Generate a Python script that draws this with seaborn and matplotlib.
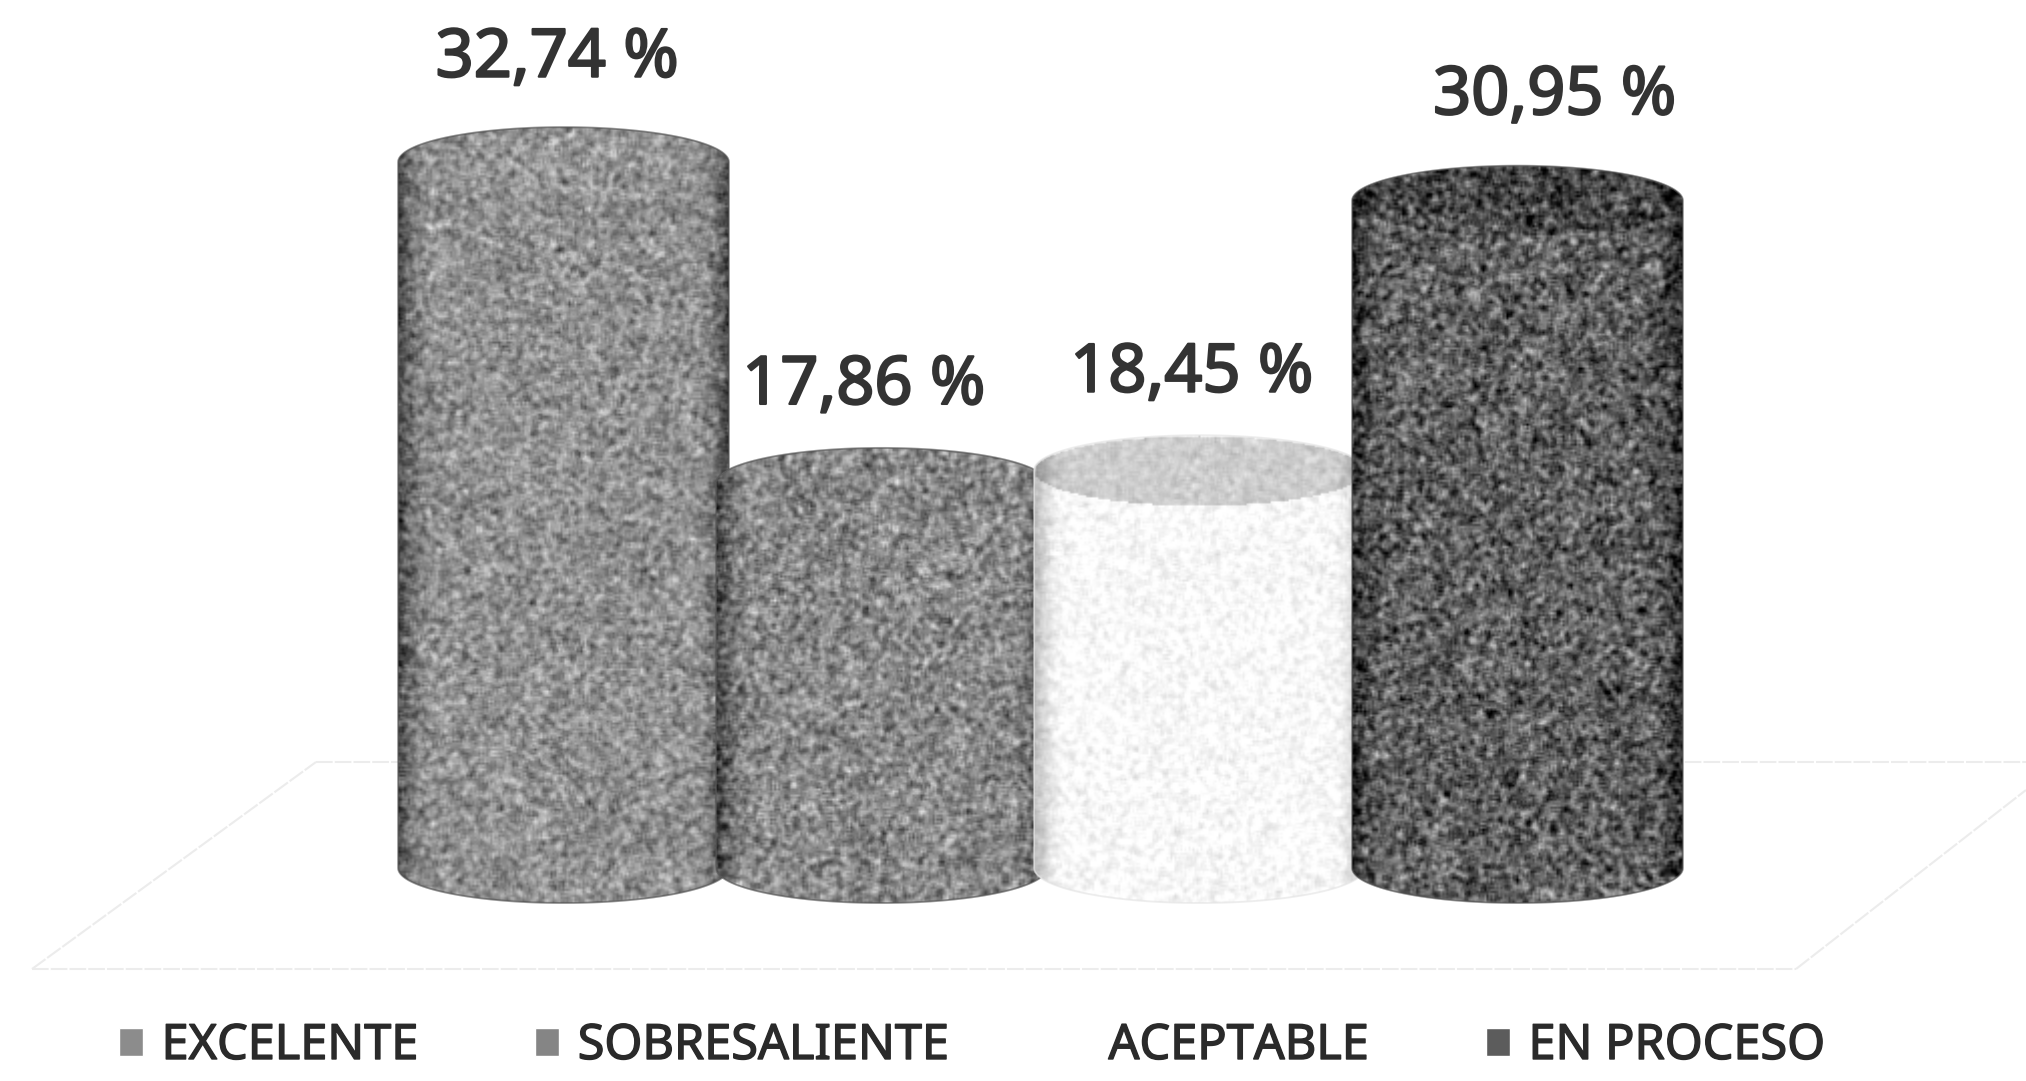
import numpy as np
import pandas as pd
import matplotlib
matplotlib.use("Agg")
import matplotlib.pyplot as plt
import matplotlib.patheffects as pe
from matplotlib.path import Path
from matplotlib.patches import PathPatch
import seaborn as sns

categories = ["EXCELENTE", "SOBRESALIENTE", "ACEPTABLE", "EN PROCESO"]
values = [32.74, 17.86, 18.45, 30.95]
value_labels = ["32,74 %", "17,86 %", "18,45 %", "30,95 %"]

bar_colors = ["#8c8c8c", "#858585", "#f2f2f2", "#5c5c5c"]
cap_levels = [150, 135, 205, 72]
body_levels = [145, 138, 248, 96]
grain = [21, 24, 8, 30]
edge_dark = [75, 75, 60, 55]
label_dx = [-0.02, -0.056, -0.024, 0.117]
label_dy = [4.8, 4.5, 4.48, 4.85]

W, H = 2026, 1081
PX_X = 318.0
PX_Y = 21.56
X0, Y0 = 563.5, 868.0
CAP = 35 / PX_Y

sns.set_theme(style="white")
plt.rcParams["font.family"] = ["Noto Sans", "DejaVu Sans"]

fig = plt.figure(figsize=(W / 100, H / 100), dpi=100, facecolor="white")
ax = fig.add_axes([0, 0, 1, 1])
df = pd.DataFrame({"cat": categories, "val": values})
sns.barplot(data=df, x="cat", y="val", hue="cat", order=categories, hue_order=categories,
            palette=bar_colors, dodge=False, width=1.04, saturation=1, legend=True, ax=ax)
handles, labels = ax.get_legend_handles_labels()
ax.get_legend().remove()

rng = np.random.default_rng(7)
xlim = (-X0 / PX_X, (W - X0) / PX_X)
ylim = (-(H - Y0) / PX_Y, Y0 / PX_Y)


def smooth(a):
    out = a.copy()
    for axis in (0, 1):
        out = (np.roll(out, 1, axis) + out + np.roll(out, -1, axis)) / 3
    return out


for i, cont in enumerate(ax.containers):
    bar = cont[0]
    bar.set_linewidth(0)
    bar.set_zorder(3 + i)
    x0, w, v = bar.get_x(), bar.get_width(), bar.get_height()
    t = np.linspace(0, np.pi, 80)
    xa = x0 + w / 2 - np.cos(t) * w / 2
    top = v + np.sin(t) * CAP
    bot = -np.sin(t) * CAP
    verts = np.vstack([np.c_[xa, top], np.c_[xa[::-1], bot[::-1]], [[xa[0], top[0]]]])
    codes = [Path.MOVETO] + [Path.LINETO] * (len(verts) - 2) + [Path.CLOSEPOLY]
    outline = PathPatch(Path(verts, codes), facecolor=bar_colors[i], lw=0, zorder=3 + i)
    ax.add_patch(outline)

    ny = int((v + 2 * CAP) * PX_Y / 2)
    nx = int(w * PX_X / 2)
    xs = np.linspace(-1, 1, nx)
    ys = np.linspace(v + CAP, -CAP, ny)
    uu, yy = np.meshgrid(xs, ys)
    shade = np.full(uu.shape, float(body_levels[i]))
    capmask = uu ** 2 + ((yy - v) / CAP) ** 2 < 1
    shade[capmask] = cap_levels[i]
    edge = np.clip((np.abs(uu) - 0.78) / 0.22, 0, 1) ** 2
    shade -= edge * edge_dark[i]
    noise = smooth(rng.normal(0, 1, uu.shape))
    noise = noise / noise.std()
    img = np.clip(shade + noise * grain[i], 0, 255)
    im = ax.imshow(img, cmap="gray", vmin=0, vmax=255, aspect="auto",
                   extent=(x0, x0 + w, -CAP, v + CAP), interpolation="bilinear", zorder=3.5 + i)
    im.set_clip_path(outline)
    rim = PathPatch(Path(verts, codes), facecolor="none",
                    edgecolor="#555555" if i != 2 else "#e4e4e4", lw=1.4, alpha=0.6, zorder=3.6 + i)
    ax.add_patch(rim)
    ax.text(i + label_dx[i], v + label_dy[i], value_labels[i], ha="center", va="center",
            fontsize=48, color="#333333", zorder=20,
            path_effects=[pe.withStroke(linewidth=1.6, foreground="#333333")])

ax.set_xlim(*xlim)
ax.set_ylim(*ylim)
ax.axis("off")

floor = [((316, 762), (2026, 762)), ((32, 969), (1796, 969)),
         ((32, 969), (316, 762)), ((1796, 969), (2026, 790))]
for (xa, ya), (xb, yb) in floor:
    ax.plot([xa / W, xb / W], [1 - ya / H, 1 - yb / H], transform=fig.transFigure, clip_on=False,
            color="#ececec", lw=1.5, ls=(0, (8, 1)), zorder=1)

handles[2].set_facecolor("white")
leg = fig.legend(handles, labels, loc="center", bbox_to_anchor=(972 / W, 1 - 1046 / H), ncol=4,
                 frameon=False, fontsize=35, labelcolor="#2a2a2a", handlelength=0.5, handleheight=0.5,
                 handletextpad=0.38, columnspacing=2.4, borderpad=0)
for txt in leg.get_texts():
    txt.set_path_effects([pe.withStroke(linewidth=1.0, foreground="#2a2a2a")])

fig.savefig("out.png", dpi=100, facecolor="white")
